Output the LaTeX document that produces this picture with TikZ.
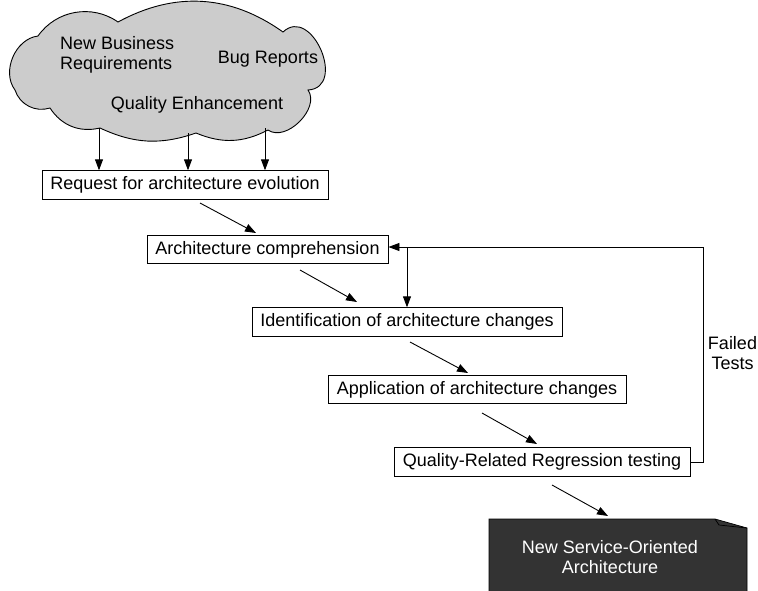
\documentclass[tikz,border=0pt]{standalone}
\usepackage{fontspec}
\setmainfont{Liberation Sans}
\usetikzlibrary{arrows.meta}
\definecolor{cloudgray}{RGB}{204,204,204}
\definecolor{darkbox}{RGB}{51,51,51}
\tikzset{
  lbl/.style={font=\fontsize{18}{20.5}\selectfont, inner sep=0pt},
  stepbox/.style={draw=black, line width=0.9pt, fill=white, inner sep=0pt,
    font=\fontsize{18}{20.5}\selectfont, minimum height=28.5pt},
  arr/.style={line width=0.9pt, -{Triangle[length=11pt,width=8pt]}},
  ln/.style={line width=0.9pt},
}
\begin{document}
\begin{tikzpicture}[x=1pt,y=-1pt]
\useasboundingbox (0,0) rectangle (758,590);
% cloud
\draw[ln, fill=cloudgray]
  (15,90) to[bend left=60] (38,36)
  to[bend left=45] (118,22)
  to[bend left=32] (283,32)
  to[bend left=110, looseness=1.6] (308,90)
  to[bend left=80] (268,130)
  to[bend left=25] (196,133)
  to[bend left=22] (100,128)
  to[bend left=35] (50,108)
  to[bend left=45] cycle;
\node[lbl, anchor=west, align=left] (nbr) at (60,55) {New Business\\Requirements};
\node[lbl] (bug) at (268,59) {Bug Reports};
\node[lbl] (qe) at (197,105) {Quality Enhancement};

% boxes
\node[stepbox, minimum width=286pt] (req) at (185,185) {Request for architecture evolution};
\node[stepbox, minimum width=241pt] (comp) at (267.5,249.5) {Architecture comprehension};
\node[stepbox, minimum width=310pt] (ident) at (407,322) {Identification of architecture changes};
\node[stepbox, minimum width=298pt] (app) at (477,389.5) {Application of architecture changes};
\node[stepbox, minimum width=296pt] (qual) at (542,462) {Quality-Related Regression testing};

% dark note
\fill[darkbox, draw=black, line width=0.7pt] (489,519) -- (715,519) -- (747,528) -- (747,595) -- (489,595) -- cycle;
\draw[black, line width=0.7pt] (715,519) -- (719,525) -- (747,528);
\node[lbl, text=white, align=center] (nsoa) at (610,557) {New Service-Oriented\\Architecture};

% cloud arrows
\coordinate (c1) at (99,128);
\coordinate (c2) at (188,133);
\coordinate (c3) at (265,128);
\draw[arr] (c1) -- (c1 |- req.north);
\draw[arr] (c2) -- (c2 |- req.north);
\draw[arr] (c3) -- (c3 |- req.north);

% diagonal arrows
\coordinate (s1) at (200,203); \coordinate (e1) at (256,233);
\coordinate (s2) at (300,270); \coordinate (e2) at (357,302);
\coordinate (s3) at (410,342); \coordinate (e3) at (468,373);
\coordinate (s4) at (482,413); \coordinate (e4) at (537,444);
\coordinate (s5) at (552,485); \coordinate (e5) at (608,516);
\draw[arr] (s1) -- (e1);
\draw[arr] (s2) -- (e2);
\draw[arr] (s3) -- (e3);
\draw[arr] (s4) -- (e4);
\draw[arr] (s5) -- (e5);

% feedback loop
\coordinate (fb) at (703,247);
\draw[arr] (qual.east) -| (fb) -- (comp.east |- fb);
\draw[arr] (ident.north |- fb) -- (ident.north);
\node[lbl, align=center] (ft) at (732.5,353) {Failed\\Tests};
\end{tikzpicture}
\end{document}
